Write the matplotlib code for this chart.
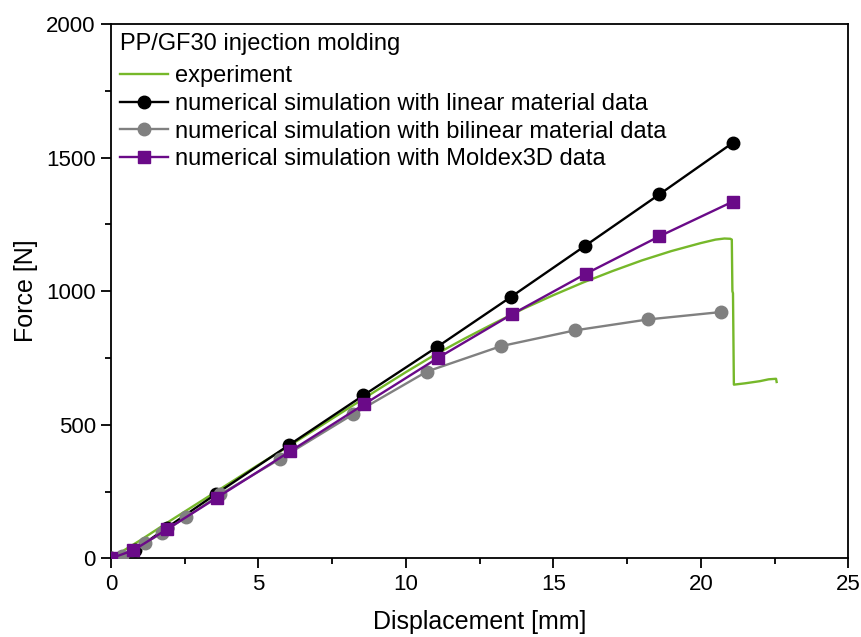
import matplotlib
matplotlib.use("Agg")
import matplotlib.pyplot as plt
from matplotlib.ticker import MultipleLocator

plt.rcParams['font.family'] = ['Liberation Sans', 'DejaVu Sans']

# Experiment: force-displacement curve
exp_x = [0, 1, 2, 3, 4, 5, 6, 7, 8, 9, 10, 11, 12, 13, 14, 15, 16, 17, 18, 19,
         20, 20.5, 20.8, 21.0, 21.05, 21.07, 21.09, 21.12, 21.5, 22.0, 22.3, 22.55, 22.57]
exp_y = [0, 68, 140, 210, 280, 350, 418, 488, 558, 628, 697, 763, 823, 880, 935, 985,
         1032, 1075, 1115, 1150, 1180, 1193, 1197, 1196, 1193, 1000, 992, 650, 655, 663,
         670, 672, 660]

# Simulation with linear material data
lin_x = [0, 0.8, 1.9, 3.55, 6.05, 8.56, 11.07, 13.57, 16.08, 18.59, 21.08]
lin_y = [0, 30, 115, 240, 425, 610, 792, 979, 1170, 1362, 1555]

# Simulation with bilinear material data
bil_x = [0, 0.36, 1.15, 1.72, 2.54, 3.7, 5.73, 8.22, 10.71, 13.22, 15.72, 18.2, 20.7]
bil_y = [0, 7, 57, 94, 154, 239, 372, 540, 699, 794, 853, 894, 922]

# Simulation with Moldex3D data
mol_x = [0, 0.76, 1.89, 3.58, 6.07, 8.59, 11.1, 13.59, 16.1, 18.59, 21.08]
mol_y = [0, 30, 108, 226, 400, 577, 751, 913, 1065, 1205, 1335]

labels = ["experiment",
          "numerical simulation with linear material data",
          "numerical simulation with bilinear material data",
          "numerical simulation with Moldex3D data"]

fig = plt.figure(figsize=(8.61, 6.37), dpi=100)
ax = fig.add_axes([111 / 861, 1 - 558.3 / 637, (848.3 - 111) / 861, (558.3 - 24) / 637])

lw = 1.7
ax.plot(exp_x, exp_y, color='#76b82a', lw=lw, label=labels[0], zorder=2)
ax.plot(lin_x, lin_y, color='black', lw=lw, marker='o', ms=9, label=labels[1], zorder=3)
ax.plot(bil_x, bil_y, color='#808080', lw=lw, marker='o', ms=9, label=labels[2], zorder=3)
ax.plot(mol_x, mol_y, color='#6a0a88', lw=lw, marker='s', ms=8.3, label=labels[3], zorder=4)

ax.set_xlim(0, 25)
ax.set_ylim(0, 2000)
ax.xaxis.set_major_locator(MultipleLocator(5))
ax.xaxis.set_minor_locator(MultipleLocator(2.5))
ax.yaxis.set_major_locator(MultipleLocator(500))
ax.yaxis.set_minor_locator(MultipleLocator(250))
ax.tick_params(which='major', direction='out', length=7, width=1.3, labelsize=16, pad=4)
ax.tick_params(which='minor', direction='out', length=4, width=1.3)
for s in ax.spines.values():
    s.set_linewidth(1.3)

ax.set_xlabel("Displacement [mm]", fontsize=18, labelpad=11)
ax.set_ylabel("Force [N]", fontsize=18, labelpad=6)

leg = ax.legend(title="PP/GF30 injection molding", loc='upper left', frameon=False,
                fontsize=17, title_fontsize=17, handlelength=2.0, handletextpad=0.3,
                labelspacing=0.24, borderaxespad=0.05, borderpad=0.35, alignment='left')
leg._legend_box.sep = 7

fig.savefig("out.png", dpi=100)
